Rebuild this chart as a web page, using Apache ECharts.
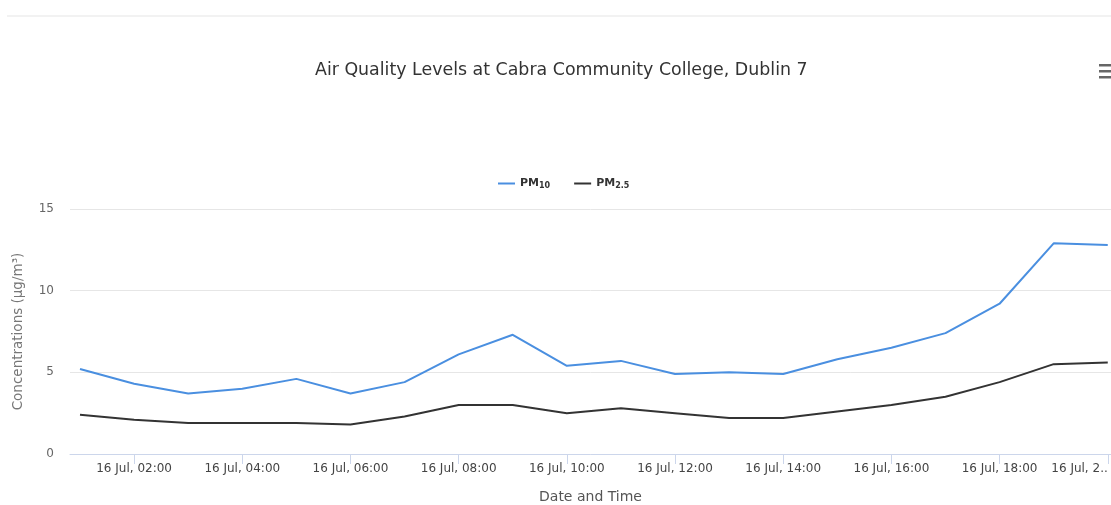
<!DOCTYPE html>
<html>
<head>
<meta charset="utf-8">
<script src="https://cdn.jsdelivr.net/npm/echarts@6/dist/echarts.min.js"></script>
<style>
  html, body { margin: 0; padding: 0; background: #fff; }
  #chart { width: 1111px; height: 505px; }
</style>
</head>
<body>
<div id="chart"></div>
<script>
  // hourly readings, 16 Jul
  const hours = [1, 2, 3, 4, 5, 6, 7, 8, 9, 10, 11, 12, 13, 14, 15, 16, 17, 18, 19, 20]
  const pm10 = [5.2, 4.3, 3.7, 4.0, 4.6, 3.7, 4.4, 6.1, 7.3, 5.4, 5.7, 4.9, 5.0, 4.9, 5.8, 6.5, 7.4, 9.2, 12.9, 12.8]
  const pm25 = [2.4, 2.1, 1.9, 1.9, 1.9, 1.8, 2.3, 3.0, 3.0, 2.5, 2.8, 2.5, 2.2, 2.2, 2.6, 3.0, 3.5, 4.4, 5.5, 5.6]
  const tickHours = [2, 4, 6, 8, 10, 12, 14, 16, 18, 20]
  const seriesNames = ['PM10', 'PM2.5']

  const font = 'DejaVu Sans, sans-serif'

  const pad = (n) => (n < 10 ? '0' + n : '' + n)
  const tickLabel = (h) => {
    const text = '16 Jul, ' + pad(h) + ':00'
    // last label is cut by the chart edge in the original
    return h === tickHours[tickHours.length - 1] ? text.slice(0, 9) + '..' : text
  }

  const chart = echarts.init(document.getElementById('chart'))

  const option = {
    backgroundColor: '#fff',
    animation: false,
    title: {
      text: 'Air Quality Levels at Cabra Community College, Dublin 7',
      left: 310,
      top: 57,
      textStyle: { fontFamily: font, fontSize: 17.4, fontWeight: 'normal', color: '#333' }
    },
    legend: {
      data: seriesNames,
      left: 493,
      top: 173,
      icon: 'rect',
      itemWidth: 17,
      itemHeight: 2,
      itemGap: 24,
      formatter: (name) => (name === 'PM10' ? 'PM{s|10}' : 'PM{s|2.5}'),
      textStyle: {
        fontFamily: font,
        fontSize: 11,
        fontWeight: 'bold',
        color: '#333',
        rich: {
          s: { fontFamily: font, fontSize: 8, fontWeight: 'bold', color: '#333', padding: [5, 0, 0, 0] }
        }
      }
    },
    grid: { left: 70, right: 0, top: 209, bottom: 50 },
    xAxis: {
      type: 'value',
      min: 0.815,
      max: 20.06,
      name: 'Date and Time',
      nameLocation: 'middle',
      nameGap: 36,
      nameTextStyle: { fontFamily: font, fontSize: 14, color: '#555' },
      axisLine: { show: true, lineStyle: { color: '#ccd6eb', width: 1 } },
      axisTick: { show: true, length: 10, customValues: tickHours, lineStyle: { color: '#ccd6eb' } },
      axisLabel: {
        customValues: tickHours,
        formatter: (v) => tickLabel(v),
        fontFamily: font,
        fontSize: 12,
        color: '#444',
        margin: 9,
        alignMaxLabel: 'right'
      },
      splitLine: { show: false }
    },
    yAxis: {
      type: 'value',
      min: 0,
      max: 15,
      interval: 5,
      name: 'Concentrations (µg/m³)',
      nameLocation: 'middle',
      nameRotate: 90,
      nameGap: 45,
      nameTextStyle: { fontFamily: font, fontSize: 13.5, color: '#777' },
      axisLine: { show: false },
      axisTick: { show: false },
      axisLabel: { fontFamily: font, fontSize: 12, color: '#666', margin: 16 },
      splitLine: { lineStyle: { color: '#e6e6e6', width: 1 } }
    },
    series: [
      {
        name: seriesNames[0],
        type: 'line',
        showSymbol: false,
        lineStyle: { width: 2, color: '#4a8fe0' },
        itemStyle: { color: '#4a8fe0' },
        data: hours.map((h, i) => [h, pm10[i]])
      },
      {
        name: seriesNames[1],
        type: 'line',
        showSymbol: false,
        lineStyle: { width: 2, color: '#333' },
        itemStyle: { color: '#333' },
        data: hours.map((h, i) => [h, pm25[i]])
      }
    ],
    graphic: [
      { type: 'rect', shape: { x: 7, y: 15, width: 1104, height: 2 }, style: { fill: '#f2f2f2' }, silent: true },
      { type: 'rect', shape: { x: 1099, y: 64, width: 12, height: 2.5 }, style: { fill: '#666' }, silent: true },
      { type: 'rect', shape: { x: 1099, y: 70, width: 12, height: 2.5 }, style: { fill: '#666' }, silent: true },
      { type: 'rect', shape: { x: 1099, y: 76, width: 12, height: 2.5 }, style: { fill: '#666' }, silent: true }
    ]
  }

  chart.setOption(option)
</script>
</body>
</html>
